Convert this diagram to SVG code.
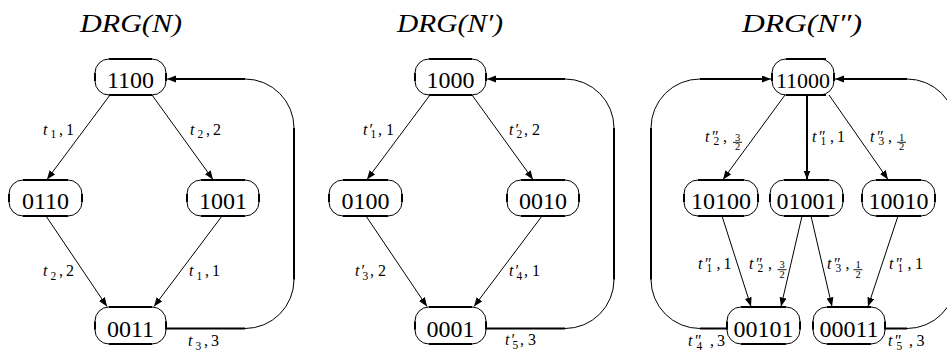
<svg xmlns="http://www.w3.org/2000/svg" width="947" height="351" viewBox="0 0 947 351" font-family="'Liberation Serif', serif">
<defs>
<style>
text{font-family:'Liberation Serif',serif}
.node rect{fill:#fff;stroke:#000;stroke-width:1}
.node path{fill:none;stroke:#000;stroke-width:2}
.nt{font-size:24px;text-anchor:middle}
.c{fill:none;stroke:#000;stroke-width:1}
.k{fill:none;stroke:#000;stroke-width:2}
.lb{font-size:16px}
.i{font-style:italic}
.s{font-size:11.5px}
.f{font-size:10.5px;text-anchor:middle}
.fb{stroke:#000;stroke-width:0.9}
.ttl{font-size:26px;font-style:italic}
</style>
<marker id="ah" markerUnits="userSpaceOnUse" markerWidth="11" markerHeight="8" refX="9" refY="3.5" orient="auto"><path d="M0,0L9,3.5L0,7z" fill="#000"/></marker>
</defs>
<rect width="947" height="351" fill="#fff"/>

<g id="titles">
<text class="ttl" x="80" y="32" textLength="102" lengthAdjust="spacingAndGlyphs">DRG(N)</text>
<text class="ttl" x="397" y="32" textLength="106" lengthAdjust="spacingAndGlyphs">DRG(N′)</text>
<text class="ttl" x="742" y="32" textLength="120" lengthAdjust="spacingAndGlyphs">DRG(N″)</text>
</g>

<g id="connectors">
<path class="c" marker-end="url(#ah)" d="M110,95L47,179.5"/>
<path class="c" marker-end="url(#ah)" d="M152,95L213,179.5"/>
<path class="c" marker-end="url(#ah)" d="M46,216L107,306.5"/>
<path class="c" marker-end="url(#ah)" d="M222,216L154,306.5"/>
<path class="c" marker-end="url(#ah)" d="M166,328.5H245A49,49 0 0 0 294,279.5V128A49,49 0 0 0 245,79H167"/>
<path class="k" d="M166,328.5H245M294,279.5V128M245,79H172"/>
<path class="c" marker-end="url(#ah)" d="M430,95L367,179.5"/>
<path class="c" marker-end="url(#ah)" d="M472,95L533,179.5"/>
<path class="c" marker-end="url(#ah)" d="M366,216L427,306.5"/>
<path class="c" marker-end="url(#ah)" d="M542,216L474,306.5"/>
<path class="c" marker-end="url(#ah)" d="M486,328.5H565A49,49 0 0 0 614,279.5V128A49,49 0 0 0 565,79H487"/>
<path class="k" d="M486,328.5H565M614,279.5V128M565,79H492"/>
<path class="c" marker-end="url(#ah)" d="M785,95L723,179.5"/>
<path class="k" marker-end="url(#ah)" d="M807,95V179.5"/>
<path class="c" marker-end="url(#ah)" d="M829,95L888,179.5"/>
<path class="c" marker-end="url(#ah)" d="M722,216L751,306.5"/>
<path class="c" marker-end="url(#ah)" d="M802,216L781,306.5"/>
<path class="c" marker-end="url(#ah)" d="M811,216L832,306.5"/>
<path class="c" marker-end="url(#ah)" d="M898,216L868,306.5"/>
<path class="c" marker-end="url(#ah)" d="M727,328.5H700A49,49 0 0 1 651,279.5V128A49,49 0 0 1 700,79H771"/>
<path class="k" d="M727,328.5H700M651,279.5V128M700,79H766"/>
<path class="c" marker-end="url(#ah)" d="M885,328.5H907A49,49 0 0 0 956,279.5V128A49,49 0 0 0 907,79H835"/>
<path class="k" d="M885,328.5H907M956,279.5V128M907,79H840"/>
</g>

<g id="labels">
<text class="lb" y="134.5"><tspan class="i" x="43">t</tspan><tspan class="s" x="50.5" dy="3.5">1</tspan><tspan x="59" dy="-3.5">,</tspan><tspan x="66">1</tspan></text>
<text class="lb" y="134.5"><tspan class="i" x="190">t</tspan><tspan class="s" x="197.5" dy="3.5">2</tspan><tspan x="206" dy="-3.5">,</tspan><tspan x="213">2</tspan></text>
<text class="lb" y="276"><tspan class="i" x="43">t</tspan><tspan class="s" x="50.5" dy="3.5">2</tspan><tspan x="59" dy="-3.5">,</tspan><tspan x="66">2</tspan></text>
<text class="lb" y="276"><tspan class="i" x="189">t</tspan><tspan class="s" x="196.5" dy="3.5">1</tspan><tspan x="205" dy="-3.5">,</tspan><tspan x="212">1</tspan></text>
<text class="lb" y="346"><tspan class="i" x="188">t</tspan><tspan class="s" x="195.5" dy="3.5">3</tspan><tspan x="204" dy="-3.5">,</tspan><tspan x="211">3</tspan></text>
<text class="lb" y="134.5"><tspan class="i" x="363">t</tspan><tspan x="369.5">′</tspan><tspan class="s" x="370.5" dy="3.5">1</tspan><tspan x="378" dy="-3.5">,</tspan><tspan x="386">1</tspan></text>
<text class="lb" y="134.5"><tspan class="i" x="509">t</tspan><tspan x="515.5">′</tspan><tspan class="s" x="516.5" dy="3.5">2</tspan><tspan x="524" dy="-3.5">,</tspan><tspan x="532">2</tspan></text>
<text class="lb" y="276"><tspan class="i" x="355">t</tspan><tspan x="361.5">′</tspan><tspan class="s" x="362.5" dy="3.5">3</tspan><tspan x="370" dy="-3.5">,</tspan><tspan x="378">2</tspan></text>
<text class="lb" y="276"><tspan class="i" x="509">t</tspan><tspan x="515.5">′</tspan><tspan class="s" x="516.5" dy="3.5">4</tspan><tspan x="524" dy="-3.5">,</tspan><tspan x="532">1</tspan></text>
<text class="lb" y="345"><tspan class="i" x="505">t</tspan><tspan x="511.5">′</tspan><tspan class="s" x="512.5" dy="3.5">5</tspan><tspan x="520" dy="-3.5">,</tspan><tspan x="528">3</tspan></text>
<g>
<text class="lb" y="141.5"><tspan class="i" x="705">t</tspan><tspan x="712">″</tspan><tspan class="s" x="713.5" dy="3.5">2</tspan><tspan x="723" dy="-3.5">,</tspan></text>
<text class="f" x="737.5" y="140.5">3</text><line class="fb" x1="733" y1="142.3" x2="742" y2="142.3"/><text class="f" x="737.5" y="150">2</text>
</g>
<text class="lb" y="141.5"><tspan class="i" x="812">t</tspan><tspan x="819">″</tspan><tspan class="s" x="820.5" dy="3.5">1</tspan><tspan x="830" dy="-3.5">,</tspan><tspan x="837">1</tspan></text>
<g>
<text class="lb" y="141.5"><tspan class="i" x="870">t</tspan><tspan x="877">″</tspan><tspan class="s" x="878.5" dy="3.5">3</tspan><tspan x="888" dy="-3.5">,</tspan></text>
<text class="f" x="901.5" y="140.5">1</text><line class="fb" x1="897" y1="142.3" x2="906" y2="142.3"/><text class="f" x="901.5" y="150">2</text>
</g>
<text class="lb" y="268.5"><tspan class="i" x="698">t</tspan><tspan x="705">″</tspan><tspan class="s" x="706.5" dy="3.5">1</tspan><tspan x="716.5" dy="-3.5">,</tspan><tspan x="723.5">1</tspan></text>
<g>
<text class="lb" y="268.5"><tspan class="i" x="749">t</tspan><tspan x="756">″</tspan><tspan class="s" x="757.5" dy="3.5">2</tspan><tspan x="768" dy="-3.5">,</tspan></text>
<text class="f" x="782" y="268">3</text><line class="fb" x1="777.5" y1="269.7" x2="786.5" y2="269.7"/><text class="f" x="782" y="277.5">2</text>
</g>
<g>
<text class="lb" y="268.5"><tspan class="i" x="827">t</tspan><tspan x="834">″</tspan><tspan class="s" x="835.5" dy="3.5">3</tspan><tspan x="845.5" dy="-3.5">,</tspan></text>
<text class="f" x="858" y="268">1</text><line class="fb" x1="853.5" y1="269.7" x2="862.5" y2="269.7"/><text class="f" x="858" y="277.5">2</text>
</g>
<text class="lb" y="268.5"><tspan class="i" x="889">t</tspan><tspan x="896">″</tspan><tspan class="s" x="897.5" dy="3.5">1</tspan><tspan x="907.5" dy="-3.5">,</tspan><tspan x="915">1</tspan></text>
<text class="lb" y="346"><tspan class="i" x="688">t</tspan><tspan x="695">″</tspan><tspan class="s" x="696.5" dy="3.5">4</tspan><tspan x="710" dy="-3.5">,</tspan><tspan x="717">3</tspan></text>
<text class="lb" y="346"><tspan class="i" x="888">t</tspan><tspan x="895">″</tspan><tspan class="s" x="896.5" dy="3.5">5</tspan><tspan x="909" dy="-3.5">,</tspan><tspan x="916.5">3</tspan></text>
</g>

<g id="n1100" class="node"><rect x="95" y="59" width="71" height="36" rx="14"/><path d="M109,59H152M109,95H152M95,73V81M166,73V81"/><text class="nt" x="130.5" y="88">1100</text></g>
<g id="n0110" class="node"><rect x="9" y="180" width="73" height="36" rx="14"/><path d="M23,180H68M23,216H68M9,194V202M82,194V202"/><text class="nt" x="45.5" y="209">0110</text></g>
<g id="n1001" class="node"><rect x="187" y="180" width="72" height="36" rx="14"/><path d="M201,180H245M201,216H245M187,194V202M259,194V202"/><text class="nt" x="223" y="209">1001</text></g>
<g id="n0011" class="node"><rect x="95" y="307" width="71" height="37" rx="14"/><path d="M109,307H152M109,344H152M95,321.5V329.5M166,321.5V329.5"/><text class="nt" x="130.5" y="337">0011</text></g>

<g id="n1000" class="node"><rect x="415" y="59" width="71" height="36" rx="14"/><path d="M429,59H472M429,95H472M415,73V81M486,73V81"/><text class="nt" x="450.5" y="88">1000</text></g>
<g id="n0100" class="node"><rect x="329" y="180" width="73" height="36" rx="14"/><path d="M343,180H388M343,216H388M329,194V202M402,194V202"/><text class="nt" x="365.5" y="209">0100</text></g>
<g id="n0010" class="node"><rect x="507" y="180" width="72" height="36" rx="14"/><path d="M521,180H565M521,216H565M507,194V202M579,194V202"/><text class="nt" x="543" y="209">0010</text></g>
<g id="n0001" class="node"><rect x="415" y="307" width="71" height="37" rx="14"/><path d="M429,307H472M429,344H472M415,321.5V329.5M486,321.5V329.5"/><text class="nt" x="450.5" y="337">0001</text></g>

<g id="n11000" class="node"><rect x="772" y="59" width="62" height="36" rx="14"/><path d="M786,59H826M786,95H826M772,73V81M834,73V81"/><text class="nt" style="font-size:22px" x="803" y="87.5">11000</text></g>
<g id="n10100" class="node"><rect x="684" y="180" width="74" height="36" rx="14"/><path d="M698,180H744M698,216H744M684,194V202M758,194V202"/><text class="nt" x="721" y="209">10100</text></g>
<g id="n01001" class="node"><rect x="770" y="180" width="73" height="36" rx="14"/><path d="M784,180H829M784,216H829M770,194V202M843,194V202"/><text class="nt" x="806.5" y="209">01001</text></g>
<g id="n10010" class="node"><rect x="862" y="180" width="73" height="36" rx="14"/><path d="M876,180H921M876,216H921M862,194V202M935,194V202"/><text class="nt" x="898.5" y="209">10010</text></g>
<g id="n00101" class="node"><rect x="727" y="307" width="73" height="37" rx="14"/><path d="M741,307H786M741,344H786M727,321.5V329.5M800,321.5V329.5"/><text class="nt" x="763.5" y="337">00101</text></g>
<g id="n00011" class="node"><rect x="813" y="307" width="72" height="37" rx="14"/><path d="M827,307H871M827,344H871M813,321.5V329.5M885,321.5V329.5"/><text class="nt" x="849" y="337">00011</text></g>
</svg>
